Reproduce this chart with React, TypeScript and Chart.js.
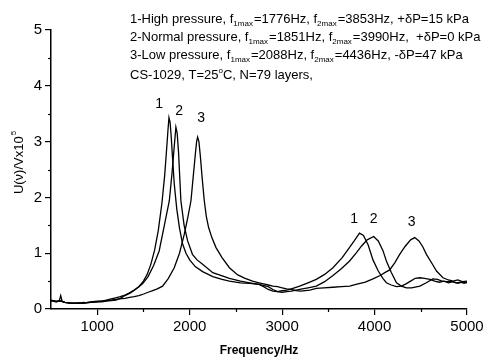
import React, { useEffect, useRef } from "react";
import { Chart, registerables } from "chart.js";

Chart.register(...registerables);

// Curve 1 – high pressure
const freqHigh = [500,530,560,590,605,620,650,700,750,800,850,900,950,1000,1050,1100,1150,1200,1250,1300,1350,1400,1450,1500,1540,1580,1620,1660,1700,1730,1750,1765,1776,1788,1800,1815,1833,1860,1890,1923,1960,2000,2060,2140,2250,2350,2430,2550,2650,2750,2800,2850,2900,2950,3000,3050,3100,3190,3280,3370,3460,3550,3650,3720,3780,3837,3880,3930,3983,4040,4090,4128,4180,4237,4290,4340,4390,4440,4490,4540,4600,4650,4700,4750,4800,4850,4900,4950,5000];
const valHigh = [0.14,0.15,0.13,0.15,0.24,0.14,0.12,0.11,0.10,0.11,0.10,0.12,0.13,0.14,0.14,0.16,0.18,0.20,0.22,0.25,0.29,0.34,0.40,0.50,0.62,0.80,1.05,1.40,1.90,2.40,2.85,3.20,3.43,3.35,3.10,2.70,2.25,1.80,1.45,1.17,1.00,0.88,0.76,0.67,0.58,0.53,0.50,0.47,0.46,0.44,0.40,0.35,0.32,0.31,0.33,0.34,0.36,0.41,0.47,0.53,0.62,0.74,0.92,1.08,1.22,1.36,1.32,1.15,0.88,0.68,0.55,0.47,0.43,0.40,0.41,0.45,0.50,0.55,0.56,0.55,0.53,0.50,0.48,0.50,0.47,0.49,0.46,0.48,0.47];

// Curve 2 – normal pressure
const freqNormal = [500,550,600,650,700,750,800,850,900,950,1000,1050,1100,1150,1200,1250,1310,1360,1420,1490,1550,1610,1670,1720,1780,1810,1830,1851,1865,1880,1905,1940,1978,2030,2080,2140,2250,2430,2550,2650,2750,2850,2900,2950,3000,3050,3100,3190,3280,3370,3460,3550,3640,3730,3800,3860,3920,3990,4040,4090,4128,4180,4237,4290,4345,4400,4490,4560,4630,4680,4730,4780,4830,4880,4930,4970,5000];
const valNormal = [0.16,0.14,0.15,0.12,0.10,0.11,0.10,0.12,0.11,0.13,0.13,0.14,0.15,0.16,0.17,0.19,0.25,0.29,0.36,0.45,0.58,0.78,1.04,1.45,1.94,2.45,2.85,3.26,3.15,2.80,1.94,1.50,1.22,0.98,0.88,0.80,0.65,0.55,0.50,0.47,0.44,0.40,0.35,0.31,0.30,0.31,0.32,0.35,0.38,0.41,0.49,0.60,0.72,0.86,1.00,1.13,1.24,1.30,1.22,1.05,0.86,0.66,0.47,0.41,0.38,0.38,0.41,0.47,0.54,0.53,0.50,0.49,0.50,0.47,0.48,0.46,0.49];

// Curve 3 – low pressure
const freqLow = [500,550,600,650,700,750,800,850,900,950,1000,1050,1100,1150,1200,1240,1300,1350,1400,1450,1490,1550,1600,1650,1707,1770,1833,1890,1942,1980,2014,2040,2060,2075,2086,2100,2115,2135,2158,2180,2205,2240,2285,2350,2430,2520,2600,2680,2750,2800,2850,2900,2950,3000,3050,3100,3150,3200,3250,3300,3370,3450,3550,3640,3730,3800,3900,3983,4060,4120,4164,4220,4272,4330,4390,4435,4480,4520,4561,4620,4670,4740,4800,4850,4900,4950,5000];
const valLow = [0.15,0.13,0.14,0.12,0.11,0.10,0.11,0.10,0.12,0.12,0.13,0.13,0.14,0.15,0.16,0.18,0.19,0.21,0.22,0.24,0.26,0.30,0.33,0.36,0.41,0.55,0.74,1.00,1.34,1.64,1.94,2.40,2.75,3.00,3.08,3.00,2.75,2.35,1.94,1.66,1.46,1.28,1.10,0.92,0.74,0.61,0.55,0.50,0.47,0.45,0.43,0.41,0.40,0.38,0.36,0.35,0.33,0.32,0.33,0.34,0.37,0.38,0.39,0.40,0.41,0.44,0.48,0.54,0.60,0.66,0.70,0.83,0.98,1.12,1.24,1.28,1.22,1.12,0.98,0.82,0.68,0.56,0.52,0.50,0.52,0.49,0.50];

// Axis ticks
const xTickValues = [1000, 2000, 3000, 4000, 5000];
const xMinorTicks = [1500, 2500, 3500, 4500];
const yMinorTicks = [0.5, 1.5, 2.5, 3.5, 4.5];

// Peak labels
const peakLabels = ["1", "2", "3", "1", "2", "3"];
const peakLabelX = [1670, 1887, 2123, 3780, 3990, 4400];
const peakLabelY = [3.6, 3.48, 3.35, 1.55, 1.55, 1.48];

// Annotation lines
const noteLines = [
  [["1-High pressure, f", ""], ["1max", "sub"], ["=1776Hz, f", ""], ["2max", "sub"], ["=3853Hz, +\u03b4P=15 kPa", ""]],
  [["2-Normal pressure, f", ""], ["1max", "sub"], ["=1851Hz, f", ""], ["2max", "sub"], ["=3990Hz,  +\u03b4P=0 kPa", ""]],
  [["3-Low pressure, f", ""], ["1max", "sub"], ["=2088Hz, f", ""], ["2max", "sub"], ["=4436Hz, -\u03b4P=47 kPa", ""]],
  [["CS-1029, T=25", ""], ["o", "sup"], ["C, N=79 layers,", ""]],
];

const xTitle = "Frequency/Hz";
const yTitle = "U(\u03bd)/Vx10";
const yTitleSup = "5";

const FONT = "Arial, 'Liberation Sans', sans-serif";

function pts(xs: number[], ys: number[]) {
  return xs.map((x, i) => ({ x, y: ys[i] }));
}

const overlay = {
  id: "overlay",
  afterDraw(chart: any) {
    const ctx = chart.ctx;
    const xs = chart.scales.x;
    const ys = chart.scales.y;
    const area = chart.chartArea;
    ctx.save();
    ctx.strokeStyle = "#000";
    ctx.lineWidth = 1.2;
    xMinorTicks.forEach((v) => {
      const px = Math.round(xs.getPixelForValue(v)) + 0.5;
      ctx.beginPath();
      ctx.moveTo(px, area.bottom);
      ctx.lineTo(px, area.bottom + 3);
      ctx.stroke();
    });
    yMinorTicks.forEach((v) => {
      const py = Math.round(ys.getPixelForValue(v)) + 0.5;
      ctx.beginPath();
      ctx.moveTo(area.left, py);
      ctx.lineTo(area.left - 3, py);
      ctx.stroke();
    });
    ctx.fillStyle = "#000";
    ctx.font = `14px ${FONT}`;
    ctx.textAlign = "center";
    ctx.textBaseline = "alphabetic";
    peakLabels.forEach((t, i) => {
      ctx.fillText(t, xs.getPixelForValue(peakLabelX[i]), ys.getPixelForValue(peakLabelY[i]));
    });
    ctx.font = `bold 12px ${FONT}`;
    ctx.fillText(xTitle, 259, 354);
    ctx.save();
    ctx.translate(23, 163);
    ctx.rotate(-Math.PI / 2);
    ctx.font = `13px ${FONT}`;
    const w1 = ctx.measureText(yTitle).width;
    ctx.font = `8px ${FONT}`;
    const w2 = ctx.measureText(yTitleSup).width;
    const start = -(w1 + w2) / 2;
    ctx.textAlign = "left";
    ctx.font = `13px ${FONT}`;
    ctx.fillText(yTitle, start, 0);
    ctx.font = `8px ${FONT}`;
    ctx.fillText(yTitleSup, start + w1 + 1, -7);
    ctx.restore();
    ctx.textAlign = "left";
    const baselines = [23, 41, 59, 79];
    noteLines.forEach((segs, li) => {
      let x = 130;
      const by = baselines[li];
      segs.forEach(([t, kind]) => {
        if (kind === "sub") {
          ctx.font = `8px ${FONT}`;
          ctx.fillText(t, x, by + 3);
          x += ctx.measureText(t).width + 1;
        } else if (kind === "sup") {
          ctx.font = `8px ${FONT}`;
          ctx.fillText(t, x, by - 6);
          x += ctx.measureText(t).width;
        } else {
          ctx.font = `13px ${FONT}`;
          ctx.fillText(t, x, by);
          x += ctx.measureText(t).width;
        }
      });
    });
    ctx.restore();
  },
};

export default function App() {
  const ref = useRef<HTMLCanvasElement | null>(null);
  useEffect(() => {
    document.body.style.margin = "0";
    const lineStyle = {
      borderColor: "#000",
      borderWidth: 1.3,
      pointRadius: 0,
      tension: 0,
      fill: false,
    };
    const chart = new Chart(ref.current as HTMLCanvasElement, {
      type: "line",
      data: {
        datasets: [
          { label: "1", data: pts(freqHigh, valHigh), ...lineStyle },
          { label: "2", data: pts(freqNormal, valNormal), ...lineStyle },
          { label: "3", data: pts(freqLow, valLow), ...lineStyle },
        ],
      },
      options: {
        animation: false,
        responsive: false,
        devicePixelRatio: 1,
        layout: { padding: { top: 30, right: 28, left: 0, bottom: 0 } },
        plugins: { legend: { display: false }, tooltip: { enabled: false } },
        scales: {
          x: {
            type: "linear",
            min: 500,
            max: 5000,
            afterBuildTicks: (s: any) => {
              s.ticks = xTickValues.map((v) => ({ value: v }));
            },
            afterFit: (s: any) => {
              s.height = 52;
            },
            ticks: {
              color: "#000",
              font: { size: 15, family: FONT },
              padding: 3,
              maxRotation: 0,
              autoSkip: false,
              callback: (v: any) => String(v),
            },
            grid: { drawOnChartArea: false, drawTicks: true, tickLength: 6, color: "#000", lineWidth: 1.2 },
            border: { display: true, color: "#000", width: 1.5 },
          },
          y: {
            type: "linear",
            min: 0,
            max: 5,
            afterFit: (s: any) => {
              s.width = 51;
            },
            ticks: { stepSize: 1, color: "#000", font: { size: 15, family: FONT }, padding: 3 },
            grid: { drawOnChartArea: false, drawTicks: true, tickLength: 6, color: "#000", lineWidth: 1.2 },
            border: { display: true, color: "#000", width: 1.5 },
          },
        },
      },
      plugins: [overlay],
    });
    return () => chart.destroy();
  }, []);
  return (
    <div style={{ width: 495, height: 361, background: "#fff" }}>
      <canvas ref={ref} width={495} height={361} style={{ display: "block" }} />
    </div>
  );
}
